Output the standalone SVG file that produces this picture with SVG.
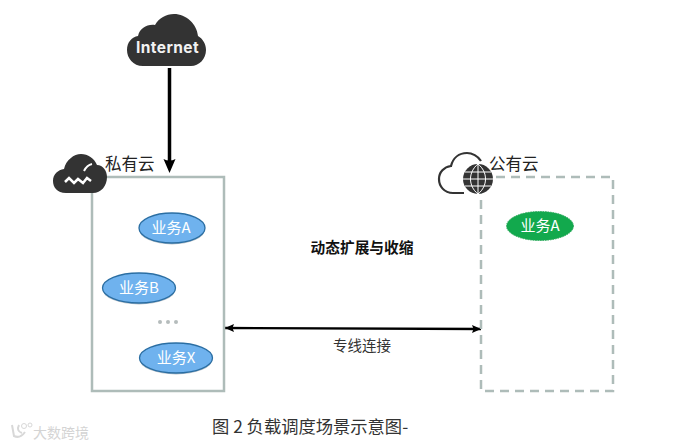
<svg xmlns="http://www.w3.org/2000/svg" width="675" height="446" viewBox="0 0 675 446">
<defs>
<marker id="a2" markerUnits="userSpaceOnUse" markerWidth="10" markerHeight="10" refX="9" refY="5" orient="auto-start-reverse"><path d="M0 1L9 5L0 9L1.500 5Z" fill="#000"/></marker>
</defs>
<style>
text{font-family:"Noto Sans CJK SC","Noto Sans",sans-serif;}
.blue ellipse{fill:#6fb2ee;stroke:#2a6ea3;stroke-width:1.300}
.blue .shadow{fill:#9aa7b0;stroke:none;opacity:.7}
.lbl{fill:#fff;font-size:15px;text-anchor:middle}
.cloud{fill:#333}
.t{fill:#222;font-size:16.500px}
</style>
<rect width="675" height="446" fill="#fff"/>
<g id="connectors">
<line x1="169.500" y1="68" x2="169.500" y2="165" stroke="#000" stroke-width="3.500"/>
<path d="M163.500 159Q169.500 162 175.500 159L169.500 173Z" fill="#000"/>
<line x1="225" y1="328" x2="481" y2="329" stroke="#000" stroke-width="2.300" marker-start="url(#a2)" marker-end="url(#a2)"/>
</g>
<g id="private-cloud">
<rect x="92" y="177" width="132" height="214" fill="#fff" stroke="#aebcb9" stroke-width="2.500"/>
<path class="cloud" d="M66 193C57 193 53 187 53 181C53 174 58 170 64 169C66 160 74 154 81 154C88 154 94 158 97 165C103 165 107 171 107 177C107 186 101 193 93 193Z"/>
<path d="M65 182L69 178L74 183L78 179L83 183L87 178L91 181" fill="none" stroke="#fff" stroke-width="2.500"/>
<path d="M84 171Q87 165 92 164" fill="none" stroke="#fff" stroke-width="2"/>
<text class="t" x="105" y="170">私有云</text>
</g>
<g id="internet">
<path class="cloud" d="M143 66C133 66 127 58 127 50C127 42 132 37 138 36C140 28 147 24 155 25C159 18 166 14 174 14C186 14 197 24 198 36C203 39 206 44 206 50C206 59 199 66 191 66Z"/>
<text x="167.500" y="52.500" fill="#f2f2f2" font-size="15.500" font-weight="700" letter-spacing=".4" text-anchor="middle" style="font-family:Inter,'Noto Sans',sans-serif">Internet</text>
</g>
<g id="biz-a" class="blue"><ellipse class="shadow" cx="172" cy="229.500" rx="33" ry="15"/><ellipse cx="172" cy="228" rx="33" ry="15"/><text class="lbl" x="171" y="232.500">业务A</text></g>
<g id="biz-b" class="blue"><ellipse class="shadow" cx="139" cy="289.500" rx="36.500" ry="15"/><ellipse cx="139" cy="288" rx="36.500" ry="15"/><text class="lbl" x="139" y="292.500">业务B</text></g>
<g id="dots"><circle cx="160" cy="322" r="2" fill="#b5bcbc"/><circle cx="168" cy="322" r="2" fill="#b5bcbc"/><circle cx="176" cy="322" r="2" fill="#b5bcbc"/></g>
<g id="biz-x" class="blue"><ellipse class="shadow" cx="176" cy="359.500" rx="36.500" ry="15"/><ellipse cx="176" cy="358" rx="36.500" ry="15"/><text class="lbl" x="176" y="362.500">业务X</text></g>
<g id="public-cloud">
<rect x="481" y="177" width="132" height="214" fill="#fff" stroke="#aebcb9" stroke-width="2.500" stroke-dasharray="9 6"/>
<path d="M464 193H453C444 193 439 186 439 179C439 172 444 167 451 166C453 158 459 153 467 153C472 153 478 156 481 161" fill="none" stroke="#333" stroke-width="2.200"/>
<circle cx="478" cy="179" r="15" fill="#333"/>
<path d="M463 179H493M465 172H491M465 186H491M478 164V194M478 164C468 172 468 186 478 194M478 164C488 172 488 186 478 194" fill="none" stroke="#fff" stroke-width="1"/>
<text class="t" x="489" y="170">公有云</text>
<ellipse cx="540" cy="226" rx="33.500" ry="14.500" fill="#12a94d" stroke="#2aa85a" stroke-dasharray="1.500 1"/>
<text class="lbl" x="540" y="231">业务A</text>
</g>
<g id="labels">
<text x="362" y="253" fill="#111" font-size="14.700" font-weight="700" text-anchor="middle">动态扩展与收缩</text>
<text x="362" y="351" fill="#333" font-size="14.500" text-anchor="middle">专线连接</text>
<text x="212" y="433" fill="#333" font-size="17.300">图 2 负载调度场景示意图-</text>
<text x="33" y="438" fill="#d4d4d4" font-size="14">大数跨境</text>
<path d="M12 425L14 436Q20 439 25 432M19 425Q16 431 22 433" fill="none" stroke="#d8d8d8" stroke-width="2"/>
<circle cx="24" cy="426" r="2.500" fill="none" stroke="#d8d8d8"/>
<circle cx="30" cy="425" r="2" fill="none" stroke="#d8d8d8"/>
</g>
</svg>
